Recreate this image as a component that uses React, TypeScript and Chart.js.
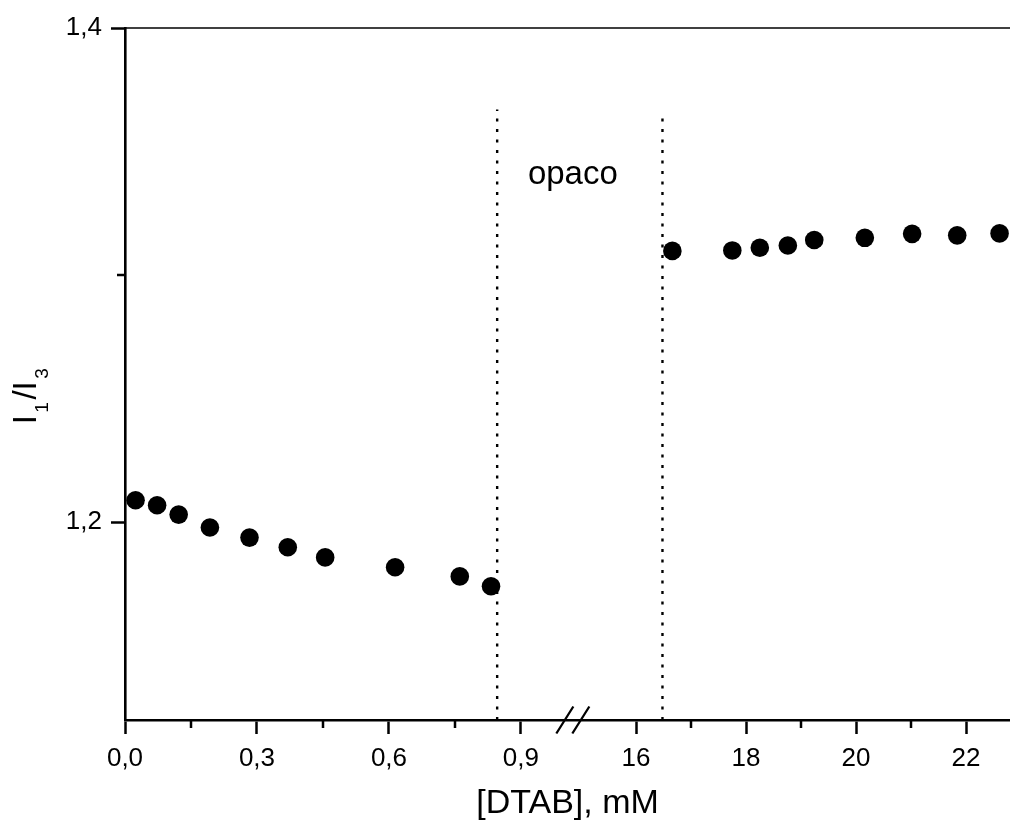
import { useEffect, useRef } from "react";
import { Chart, registerables } from "chart.js";

Chart.register(...registerables);

// ---- data ----
const lowConc = [0.024, 0.073, 0.122, 0.193, 0.283, 0.37, 0.455, 0.614, 0.761, 0.832];
const lowRatio = [1.2089, 1.2069, 1.2031, 1.1979, 1.1938, 1.1899, 1.1858, 1.1818, 1.1781, 1.1741];
const highConc = [16.66, 17.75, 18.25, 18.76, 19.24, 20.16, 21.02, 21.84, 22.61];
const highRatio = [1.3098, 1.31, 1.3111, 1.312, 1.3142, 1.3151, 1.3167, 1.3161, 1.3169];

const xMajorTicks = [0, 0.3, 0.6, 0.9, 16, 18, 20, 22];
const xTickLabels = ["0,0", "0,3", "0,6", "0,9", "16", "18", "20", "22"];
const xMinorTicks = [0.15, 0.45, 0.75, 17, 19, 21];
const yMajorTicks = [1.2, 1.4];
const yTickLabels = ["1,2", "1,4"];
const yMinorTicks = [1.3];

const opaqueBounds = [0.846, 16.48];
const opaqueTops = [1.367, 1.365];
const opaqueLabel = "opaco";
const opaqueLabelY = 1.3367;

const xTitle = "[DTAB], mM";
const yTitleParts = [
  { text: "I", sub: false },
  { text: "1", sub: true },
  { text: "/", sub: false },
  { text: "I", sub: false },
  { text: "3", sub: true },
];

const X_MIN = 0;
const X_MAX = 22.8;
const Y_MIN = 1.12;
const Y_MAX = 1.4;

// broken axis: [0, BREAK_LOW] then [BREAK_HIGH, ...] compressed
const BREAK_LOW = 1.018;
const BREAK_HIGH = 14.85;
const COMPRESS = 8;
const toAxis = (c: number) => (c <= BREAK_LOW ? c : BREAK_LOW + (c - BREAK_HIGH) / COMPRESS);

const FONT = "'Liberation Sans', Arial, Helvetica, sans-serif";

const decorPlugin = {
  id: "decor",
  afterDraw(chart: any) {
    const { ctx, chartArea, scales } = chart;
    const xs = scales.x;
    const ys = scales.y;
    ctx.save();
    ctx.strokeStyle = "#000";
    ctx.fillStyle = "#000";

    // top frame line
    ctx.lineWidth = 1.5;
    ctx.beginPath();
    ctx.moveTo(chartArea.left, chartArea.top);
    ctx.lineTo(chartArea.right, chartArea.top);
    ctx.stroke();

    // minor ticks
    ctx.lineWidth = 2.5;
    ctx.beginPath();
    xMinorTicks.forEach((v) => {
      const px = Math.round(xs.getPixelForValue(toAxis(v)));
      ctx.moveTo(px, chartArea.bottom);
      ctx.lineTo(px, chartArea.bottom + 8);
    });
    yMinorTicks.forEach((v) => {
      const py = Math.round(ys.getPixelForValue(v));
      ctx.moveTo(chartArea.left, py);
      ctx.lineTo(chartArea.left - 8, py);
    });
    ctx.stroke();

    // axis break marks
    const bx = xs.getPixelForValue(BREAK_LOW);
    const by = chartArea.bottom;
    ctx.lineWidth = 2.3;
    ctx.beginPath();
    [-8, 8].forEach((off) => {
      ctx.moveTo(bx + off - 8.5, by + 13.5);
      ctx.lineTo(bx + off + 8.5, by - 13.5);
    });
    ctx.stroke();

    // "opaco" label
    ctx.font = `33px ${FONT}`;
    ctx.textAlign = "center";
    ctx.textBaseline = "alphabetic";
    ctx.fillText(opaqueLabel, xs.getPixelForValue(BREAK_LOW), ys.getPixelForValue(opaqueLabelY));

    // y title with subscripts
    ctx.translate(36, 395);
    ctx.rotate(-Math.PI / 2);
    ctx.textAlign = "left";
    const mainFont = `33px ${FONT}`;
    const subFont = `19px ${FONT}`;
    const gap = 2.5;
    let total = 0;
    const widths = yTitleParts.map((p) => {
      ctx.font = p.sub ? subFont : mainFont;
      const w = ctx.measureText(p.text).width + (p.sub ? 2 * gap : 0);
      total += w;
      return w;
    });
    let cx = -total / 2;
    yTitleParts.forEach((p, i) => {
      ctx.font = p.sub ? subFont : mainFont;
      ctx.fillText(p.text, cx + (p.sub ? gap : 0), p.sub ? 12 : 0);
      cx += widths[i];
    });
    ctx.restore();
  },
};

export default function App() {
  const canvasRef = useRef<HTMLCanvasElement | null>(null);

  useEffect(() => {
    document.body.style.margin = "0";
    const canvas = canvasRef.current;
    if (!canvas) return;

    const pointStyle = {
      pointRadius: 9.3,
      pointHoverRadius: 9.3,
      pointBackgroundColor: "#000",
      pointBorderColor: "#000",
      pointBorderWidth: 0,
      showLine: false,
    };
    const dotted = (i: number) => ({
      data: [
        { x: toAxis(opaqueBounds[i]), y: Y_MIN },
        { x: toAxis(opaqueBounds[i]), y: opaqueTops[i] },
      ],
      showLine: true,
      borderColor: "#000",
      borderWidth: 2.4,
      borderDash: [3, 7.5],
      pointRadius: 0,
      pointHoverRadius: 0,
      fill: false,
    });

    const chart = new Chart(canvas, {
      type: "scatter",
      data: {
        datasets: [
          { data: lowConc.map((c, i) => ({ x: toAxis(c), y: lowRatio[i] })), ...pointStyle },
          { data: highConc.map((c, i) => ({ x: toAxis(c), y: highRatio[i] })), ...pointStyle },
          dotted(0),
          dotted(1),
        ],
      },
      options: {
        animation: false,
        responsive: true,
        maintainAspectRatio: false,
        layout: { autoPadding: false, padding: { top: 28, right: 0, left: 0, bottom: 0 } },
        plugins: { legend: { display: false }, tooltip: { enabled: false } },
        scales: {
          x: {
            type: "linear",
            min: toAxis(X_MIN),
            max: toAxis(X_MAX),
            afterBuildTicks: (scale: any) => {
              scale.ticks = xMajorTicks.map((v) => ({ value: toAxis(v) }));
            },
            afterFit: (scale: any) => {
              scale.height = 104;
              scale.paddingLeft = 0;
              scale.paddingRight = 0;
            },
            ticks: {
              autoSkip: false,
              maxRotation: 0,
              padding: 9,
              color: "#000",
              font: { family: FONT, size: 26 },
              callback: (_v: any, i: number) => xTickLabels[i],
            },
            grid: {
              display: true,
              drawOnChartArea: false,
              drawTicks: true,
              tickLength: 14,
              tickWidth: 2.5,
              tickColor: "#000",
            },
            border: { display: true, color: "#000", width: 2.6 },
            title: {
              display: true,
              text: xTitle,
              color: "#000",
              font: { family: FONT, size: 34 },
              padding: { top: 0, bottom: 0 },
            },
          },
          y: {
            type: "linear",
            min: Y_MIN,
            max: Y_MAX,
            afterBuildTicks: (scale: any) => {
              scale.ticks = yMajorTicks.map((v) => ({ value: v }));
            },
            afterFit: (scale: any) => {
              scale.width = 125;
            },
            ticks: {
              padding: 9,
              color: "#000",
              font: { family: FONT, size: 26 },
              callback: (_v: any, i: number) => yTickLabels[i],
            },
            grid: {
              display: true,
              drawOnChartArea: false,
              drawTicks: true,
              tickLength: 14,
              tickWidth: 2.5,
              tickColor: "#000",
            },
            border: { display: true, color: "#000", width: 2.6 },
          },
        },
      },
      plugins: [decorPlugin],
    } as any);

    return () => chart.destroy();
  }, []);

  return (
    <div style={{ position: "absolute", left: 0, top: 0, width: 1010, height: 824, background: "#fff" }}>
      <canvas ref={canvasRef} />
    </div>
  );
}
